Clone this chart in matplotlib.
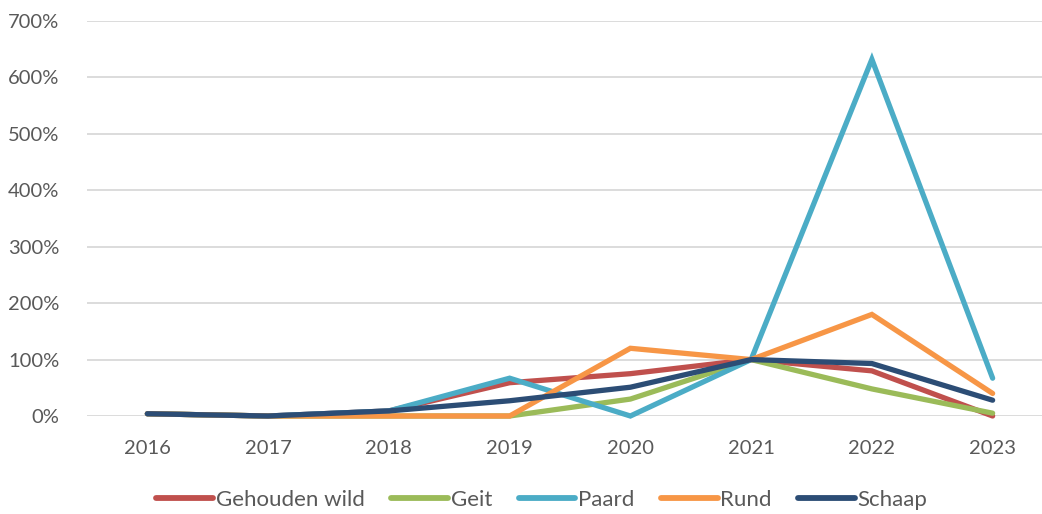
import matplotlib
matplotlib.use("Agg")
import matplotlib.pyplot as plt
from matplotlib.ticker import FuncFormatter

years = ["2016", "2017", "2018", "2019", "2020", "2021", "2022", "2023"]
gehouden_wild = [0.04, 0.0, 0.09, 0.59, 0.75, 1.00, 0.80, 0.00]
geit = [0.04, 0.0, 0.0, 0.0, 0.30, 1.00, 0.48, 0.05]
paard = [0.04, 0.0, 0.09, 0.67, 0.0, 1.00, 6.32, 0.67]
rund = [0.04, 0.0, 0.0, 0.0, 1.20, 1.00, 1.80, 0.40]
schaap = [0.04, 0.0, 0.09, 0.27, 0.51, 1.00, 0.93, 0.28]

series = [
    ("Gehouden wild", gehouden_wild, "#C0504D"),
    ("Geit", geit, "#9BBB59"),
    ("Paard", paard, "#4BACC6"),
    ("Rund", rund, "#F79646"),
    ("Schaap", schaap, "#2C4D75"),
]

plt.rcParams['font.family'] = ['Lato', 'DejaVu Sans']
W, H = 1042, 514
fig = plt.figure(figsize=(W / 100, H / 100), dpi=100)
left, right, top, bottom = 87, 1053, 21, 416
ax = fig.add_axes([left / W, (H - bottom) / H, (right - left) / W, (bottom - top) / H])

x = list(range(len(years)))
for name, vals, col in series:
    ax.plot(x, vals, color=col, lw=3.8, label=name, solid_capstyle='round',
            solid_joinstyle='miter', clip_on=False)

ax.set_xlim(-0.5, len(years) - 0.5)
ax.set_ylim(0, 7)
ax.set_yticks([i for i in range(8)])
ax.yaxis.set_major_formatter(FuncFormatter(lambda v, p: f"{int(round(v * 100))}%"))
ax.set_xticks(x)
ax.set_xticklabels(years)
ax.grid(axis='y', color='#D9D9D9', lw=1.3)
ax.set_axisbelow(True)
for s in ax.spines.values():
    s.set_visible(False)
ax.tick_params(axis='both', length=0, labelsize=14.5, colors='#595959')
ax.tick_params(axis='x', pad=17)
ax.tick_params(axis='y', pad=20)

leg = fig.legend(loc='center', bbox_to_anchor=(542 / W, (H - 500) / H), ncol=5,
                 frameon=False, fontsize=16, handlelength=2.55, handletextpad=0.12,
                 columnspacing=1.2, labelcolor='#595959')
for h in leg.get_lines():
    h.set_linewidth(4.2)
    h.set_solid_capstyle('round')

fig.savefig("out.png", dpi=100)
